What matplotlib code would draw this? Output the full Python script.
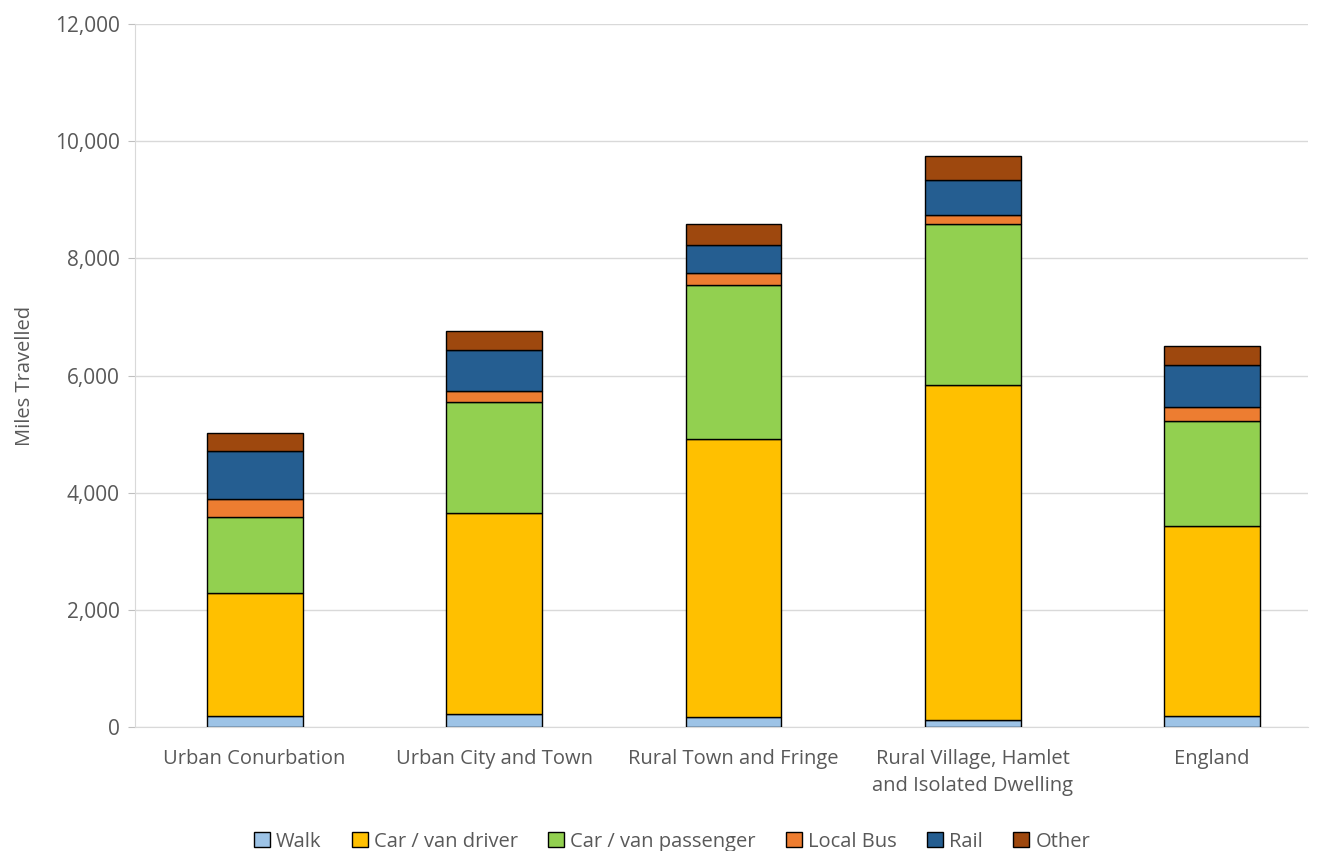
import numpy as np
import matplotlib
matplotlib.use('Agg')
import matplotlib.pyplot as plt
from matplotlib.ticker import FuncFormatter

plt.rcParams['font.family'] = ['Open Sans', 'DejaVu Sans']

# ========================= DATA ============================================

categories = ['Urban Conurbation', 'Urban City and Town', 'Rural Town and Fringe',
              'Rural Village, Hamlet\nand Isolated Dwelling', 'England']

walk = [193, 217, 165, 125, 193]
car_driver = [2094, 3436, 4751, 5713, 3238]
car_passenger = [1293, 1895, 2624, 2749, 1787]
local_bus = [307, 193, 216, 159, 250]
rail = [830, 700, 477, 592, 712]
other = [307, 324, 354, 409, 329]

series_names = ['Walk', 'Car / van driver', 'Car / van passenger', 'Local Bus', 'Rail', 'Other']
series_values = [walk, car_driver, car_passenger, local_bus, rail, other]
colors = ['#9dc3e6', '#ffc000', '#92d050', '#ed7d31', '#255e91', '#9e480e']

# ========================= PLOT ============================================

text_col = '#595959'
fig = plt.figure(figsize=(13.23, 8.51), dpi=100)
ax = fig.add_axes([0.102, 0.1457, 0.8866, 0.826])

x = np.arange(len(categories))
bottom = np.zeros(len(categories))
for name, vals, c in zip(series_names, series_values, colors):
    ax.bar(x, vals, width=0.40, bottom=bottom, color=c, edgecolor='black',
           linewidth=1.0, label=name, zorder=3)
    bottom += np.array(vals)

ax.set_xlim(-0.5, 4.4)
ax.set_ylim(0, 12000)
ax.set_yticks(np.arange(0, 12001, 2000))
ax.yaxis.set_major_formatter(FuncFormatter(lambda v, p: f'{int(v):,}'))
ax.grid(axis='y', color='#d9d9d9', linewidth=1, zorder=0)

ax.set_xticks(x)
ax.set_xticklabels(categories, fontsize=14.5, color=text_col, linespacing=1.45)
ax.tick_params(axis='x', length=0, pad=16)
ax.tick_params(axis='y', labelsize=15, labelcolor=text_col, color='#bfbfbf',
               length=5, pad=6)

for s in ['top', 'right']:
    ax.spines[s].set_visible(False)
ax.spines['left'].set_color('#d9d9d9')
ax.spines['bottom'].set_color('#d9d9d9')

ax.set_ylabel('Miles Travelled', fontsize=14.5, color=text_col, labelpad=14)

fig.legend(loc='center', bbox_to_anchor=(0.508, 0.011), ncol=6, frameon=False,
           fontsize=14.5, labelcolor=text_col, handlelength=0.8, handleheight=0.8,
           handletextpad=0.3, columnspacing=1.5)

plt.savefig('out.png', dpi=100)
